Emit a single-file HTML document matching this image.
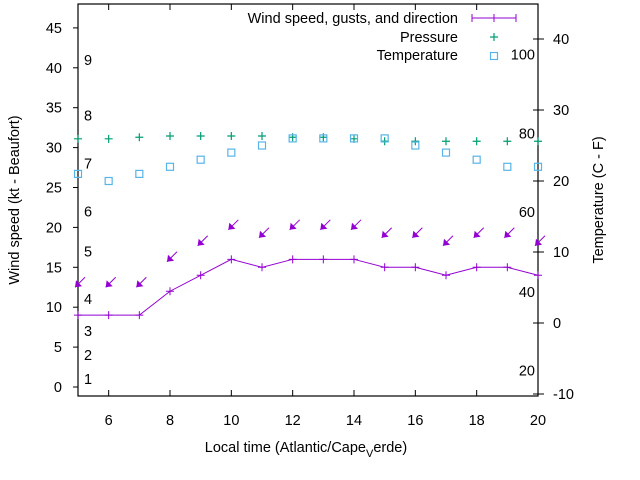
<!DOCTYPE html>
<html><head><meta charset="utf-8"><style>
body{margin:0;background:#fff}
svg{display:block;font-family:"Liberation Sans",sans-serif}
</style></head><body>
<svg id="chart" width="640" height="480" viewBox="0 0 640 480">
<g id="g"></g>
</svg>
<script>
const hours=[5,6,7,8,9,10,11,12,13,14,15,16,17,18,19,20];
const windSpeed=[9,9,9,12,14,16,15,16,16,16,15,15,14,15,15,14];
const gusts=[12.5,12.5,12.5,15.7,17.7,19.7,18.7,19.7,19.7,19.7,18.7,18.7,17.7,18.7,18.7,17.7];
const pressure=[31.1,31.1,31.3,31.45,31.45,31.45,31.45,31.3,31.3,31.1,30.8,30.8,30.8,30.8,30.8,30.8];
const tempC=[21,20,21,22,23,24,25,26,26,26,26,25,24,23,22,22];
const xTicks=[6,8,10,12,14,16,18,20];
const yTicks=[0,5,10,15,20,25,30,35,40,45];
const y2Ticks=[-10,0,10,20,30,40];
const beaufort=[[1,1],[2,4],[3,7],[4,11],[5,17],[6,22],[7,28],[8,34],[9,41]];
const fahr=[[20,-6.7],[40,4.4],[60,15.6],[80,26.7],[100,37.8]];
const L=78,R=538,T=4,B=396;
const x=v=>L+(v-5)/15*(R-L);
const y=v=>387-v*7.98;
const y2=v=>323-v*7.1;
const NS='http://www.w3.org/2000/svg';
const g=document.getElementById('g');
function el(t,a,p){const e=document.createElementNS(NS,t);for(const k in a)e.setAttribute(k,a[k]);(p||g).appendChild(e);return e;}
function txt(s,a){const e=el('text',Object.assign({'font-size':14.5,fill:'#000'},a));e.textContent=s;return e;}
// frame
const fr=el('rect',{x:L,y:T,width:R-L,height:B-T,fill:'none',stroke:'#000','stroke-width':1.2});

xTicks.forEach(v=>{
  el('line',{x1:x(v),x2:x(v),y1:B,y2:B-6,stroke:'#000'});
  el('line',{x1:x(v),x2:x(v),y1:T,y2:T+6,stroke:'#000'});
  const t=txt(v,{x:x(v),y:425,'text-anchor':'middle'});
  
});
yTicks.forEach(v=>{
  el('line',{x1:L-5,x2:L,y1:y(v),y2:y(v),stroke:'#000'});
  const t=txt(v,{x:62,y:y(v)+5,'text-anchor':'end'});
  
});
y2Ticks.forEach(v=>{
  el('line',{x1:R-5,x2:R+6,y1:y2(v),y2:y2(v),stroke:'#000'});
  const t=txt(v,{x:553,y:y2(v)+5});
  
});
beaufort.forEach(b=>{
  const t=txt(b[0],{x:84,y:y(b[1])+5});
  
});
fahr.forEach(f=>{
  const t=txt(f[0],{x:535,y:y2(f[1])+5,'text-anchor':'end'});
  
});
// wind line
const pl=el('polyline',{points:hours.map((h,i)=>x(h)+','+y(windSpeed[i])).join(' '),fill:'none',stroke:'#9400d3','stroke-width':1});

hours.forEach((h,i)=>{
  const p=el('path',{d:`M${x(h)-4},${y(windSpeed[i])}h8M${x(h)},${y(windSpeed[i])-4}v8`,stroke:'#9400d3'});
  
});
// gust arrows
hours.forEach((h,i)=>{
  const tx=x(h)-3,ty=y(gusts[i]);
  const a=el('g',{});
  
  el('line',{x1:tx,y1:ty,x2:tx+10,y2:ty-10,stroke:'#9400d3'},a);
  el('polygon',{points:`${tx},${ty} ${tx+1},${ty-7} ${tx+7},${ty-1}`,fill:'#9400d3'},a);
});
// pressure
hours.forEach((h,i)=>{
  const p=el('path',{d:`M${x(h)-4},${y(pressure[i])}h8M${x(h)},${y(pressure[i])-4}v8`,stroke:'#009e73','stroke-width':1.2});
  
});
// temperature
hours.forEach((h,i)=>{
  const r=el('rect',{x:x(h)-3.5,y:y2(tempC[i])-3.5,width:7,height:7,fill:'none',stroke:'#56b4e9','stroke-width':1.2});
  
});
// legend
const lg=el('g',{});
[['Wind speed, gusts, and direction',18],['Pressure',37],['Temperature',55]].forEach(r=>{
  const t=txt(r[0],{x:458,y:r[1]+5,'text-anchor':'end'});
  
});
el('path',{d:'M472,18h44M472,14v8M516,14v8M494,14v8',stroke:'#9400d3'},lg);
el('path',{d:'M490,37h8M494,33v8',stroke:'#009e73','stroke-width':1.2},lg);
el('rect',{x:490.5,y:52.5,width:7,height:7,fill:'none',stroke:'#56b4e9','stroke-width':1.2},lg);
// titles
const yt=txt('Wind speed (kt - Beaufort)',{x:0,y:0,transform:'translate(19,200) rotate(-90)','text-anchor':'middle'});

const y2t=txt('Temperature (C - F)',{x:0,y:0,transform:'translate(603,200) rotate(-90)','text-anchor':'middle'});

const xt=el('text',{x:306,y:452,'font-size':14.5,'text-anchor':'middle'});

xt.innerHTML='Local time (Atlantic/Cape<tspan font-size="11" dy="5">V</tspan><tspan dy="-5">erde)</tspan>';
</script>
</body></html>
